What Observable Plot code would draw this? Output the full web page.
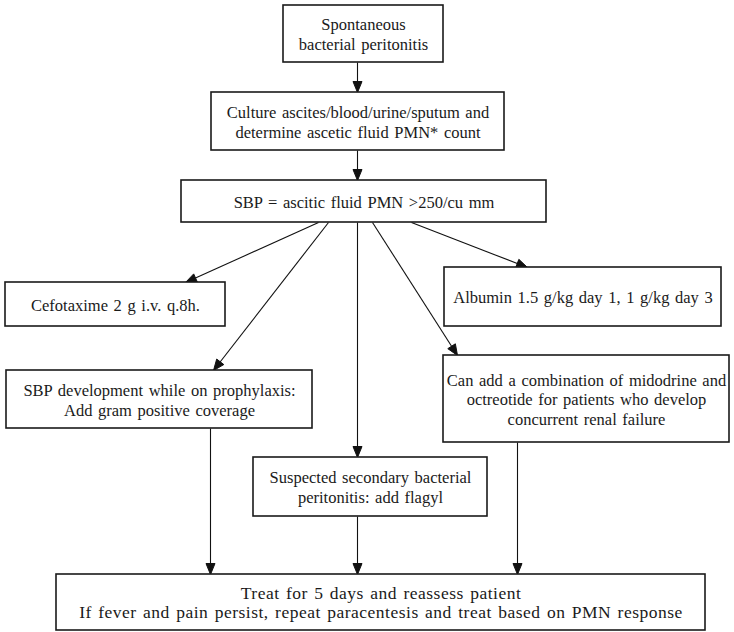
<!DOCTYPE html>
<html>
<head>
<meta charset="utf-8">
<script src="https://cdn.jsdelivr.net/npm/d3@7"></script>
<script src="https://cdn.jsdelivr.net/npm/@observablehq/plot@0.6"></script>
<style>
  html, body { margin: 0; padding: 0; background: #fff; }
  #chart svg { display: block; }
  #chart svg text { font-family: "Liberation Serif", "Times New Roman", Times, serif !important; word-spacing: 1.5px; }
</style>
</head>
<body>
<div id="chart"></div>
<script>
// Flowchart content
const labels = [
  "Spontaneous\nbacterial peritonitis",
  "Culture ascites/blood/urine/sputum and\ndetermine ascetic fluid PMN* count",
  "SBP = ascitic fluid PMN >250/cu mm",
  "Cefotaxime 2 g i.v. q.8h.",
  "Albumin 1.5 g/kg day 1, 1 g/kg day 3",
  "SBP development while on prophylaxis:\nAdd gram positive coverage",
  "Can add a combination of midodrine and\noctreotide for patients who develop\nconcurrent renal failure",
  "Suspected secondary bacterial\nperitonitis: add flagyl",
  "Treat for 5 days and reassess patient\nIf fever and pain persist, repeat paracentesis and treat based on PMN response"
];
// Layout of each node in diagram units
const boxLeft   = [283, 211, 181,   5, 444,   6, 443, 253,  56];
const boxRight  = [443, 504, 546, 225, 721, 312, 729, 487, 705];
const boxTop    = [  5,  92, 180, 282, 267, 370, 355, 457, 574];
const boxBottom = [ 62, 150, 222, 326, 326, 428, 442, 516, 630];

// Connections: from node, to node, x where the arrow leaves, x where it arrives
const edgeFrom  = [0, 1, 2, 2, 2, 2, 2, 5, 7, 6];
const edgeTo    = [1, 2, 3, 5, 7, 4, 6, 8, 8, 8];
const edgeStart = [357, 357, 318, 328, 357, 411, 372, 210, 357, 517];
const edgeEnd   = [357, 357, 185, 213, 357, 527, 457, 210, 357, 517];

const nodes = labels.map((text, i) => ({
  text, last: i === labels.length - 1,
  x1: boxLeft[i], x2: boxRight[i], y1: boxTop[i], y2: boxBottom[i],
  cx: (boxLeft[i] + boxRight[i]) / 2, cy: (boxTop[i] + boxBottom[i]) / 2
}));
const edges = edgeFrom.map((f, i) => ({
  x1: edgeStart[i], y1: boxBottom[f],
  x2: edgeEnd[i], y2: boxTop[edgeTo[i]]
}));
// Filled arrowheads derived from each edge's direction
const headLen = 11, headHalf = 4.5;
const heads = edges.flatMap((e, i) => {
  const dx = e.x2 - e.x1, dy = e.y2 - e.y1, L = Math.hypot(dx, dy);
  const ux = dx / L, uy = dy / L;
  const bx = e.x2 - ux * headLen, by = e.y2 - uy * headLen;
  return [
    {z: i, x: e.x2, y: e.y2},
    {z: i, x: bx - uy * headHalf, y: by + ux * headHalf},
    {z: i, x: bx + uy * headHalf, y: by - ux * headHalf},
    {z: i, x: e.x2, y: e.y2}
  ];
});

const W = 734, H = 632;
const textOpts = {x: "cx", y: "cy", text: "text", fontFamily: "Liberation Serif",
  lineHeight: 1.2, lineAnchor: "middle", textAnchor: "middle", fill: "#1a1a1a"};
const chart = Plot.plot({
  width: W, height: H,
  margin: 0,
  x: {domain: [0, W], range: [0, W], axis: null},
  y: {domain: [0, H], range: [0, H], axis: null},
  style: {background: "#fff", fontFamily: "'Liberation Serif', 'Times New Roman', serif"},
  marks: [
    Plot.link(edges, {x1: "x1", y1: "y1", x2: "x2", y2: "y2", stroke: "#111", strokeWidth: 1.1}),
    Plot.line(heads, {x: "x", y: "y", z: "z", fill: "#111", stroke: "#111", strokeWidth: 1, curve: "linear"}),
    Plot.rect(nodes, {x1: "x1", x2: "x2", y1: "y1", y2: "y2", fill: "#fff", stroke: "#1a1a1a", strokeWidth: 1.6}),
    Plot.text(nodes, {...textOpts, filter: (d) => !d.last, fontSize: 16.5}),
    Plot.text(nodes, {...textOpts, filter: (d) => d.last, fontSize: 17.5, lineHeight: 1.1})
  ]
});
// slightly looser tracking in the final box, as in the source figure
const textGroups = chart.querySelectorAll("g[aria-label='text']");
if (textGroups.length) textGroups[textGroups.length - 1].setAttribute("letter-spacing", "0.5");
document.getElementById("chart").appendChild(chart);
</script>
</body>
</html>
